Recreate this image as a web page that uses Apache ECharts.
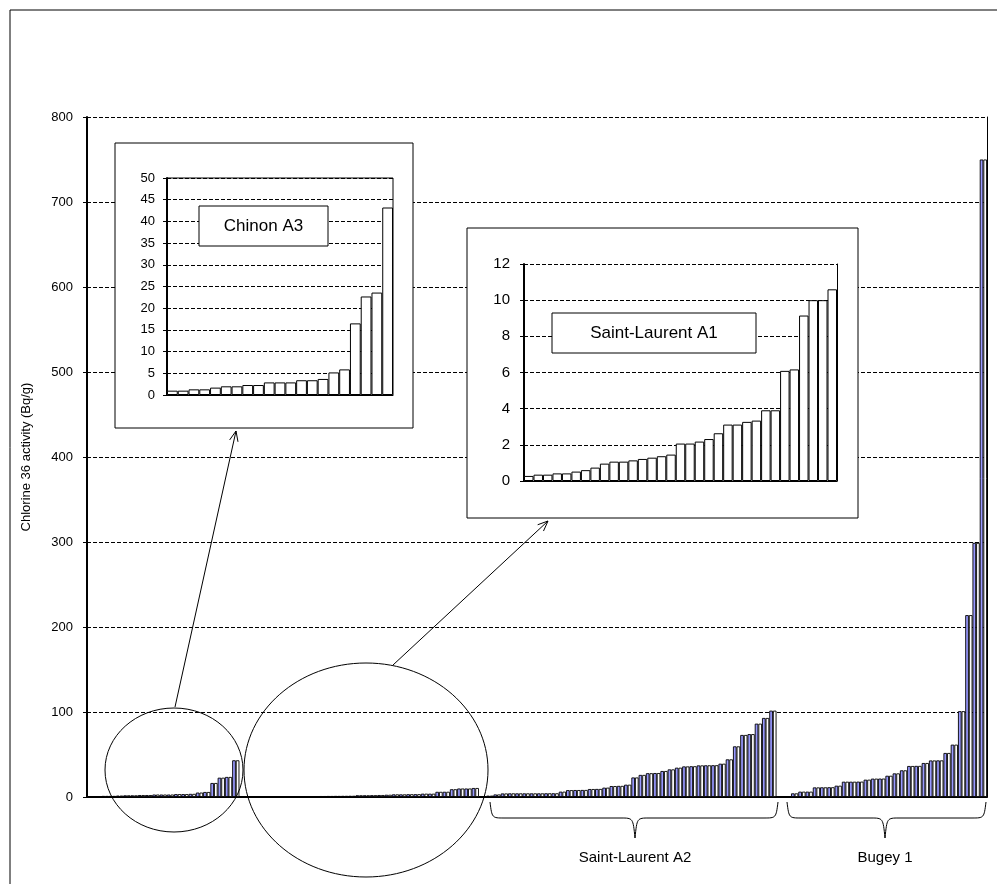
<!DOCTYPE html>
<html>
<head>
<meta charset="utf-8">
<title>Chlorine 36 activity</title>
<script src="https://cdn.jsdelivr.net/npm/echarts@6.0.0/dist/echarts.min.js"></script>
<style>
  html, body { margin: 0; padding: 0; background: #fff; }
  #chart { width: 997px; height: 884px; }
</style>
</head>
<body>
<div id="chart"></div>
<script>
// values (Bq/g), sorted per site as in the original
var chinonA3 = [1.0, 1.0, 1.3, 1.3, 1.7, 2.0, 2.0, 2.3, 2.3, 2.9, 2.9, 2.9, 3.4, 3.4, 3.7, 5.2, 5.9, 16.5, 22.7, 23.6, 43.2];
var stLaurentA1 = [0.28, 0.35, 0.35, 0.42, 0.42, 0.52, 0.6, 0.74, 0.96, 1.07, 1.07, 1.14, 1.22, 1.29, 1.37, 1.46,
                   2.07, 2.07, 2.18, 2.32, 2.64, 3.12, 3.12, 3.27, 3.34, 3.91, 3.91, 6.09, 6.17, 9.15, 10.0, 10.0, 10.6];
var stLaurentA2 = [1.6, 3.0, 4.2, 4.3, 4.3, 4.3, 4.3, 4.3, 4.4, 4.4, 6.3, 8.1, 8.2, 8.3, 9.4, 9.5, 11.0, 12.9, 13.1, 14.5,
                   23.0, 26.0, 28.0, 28.2, 30.6, 32.5, 34.5, 36.0, 36.2, 37.2, 37.3, 37.4, 39.2, 44.3, 59.6, 73.0, 74.0, 86.3, 93.0, 101.6];
var bugey1 = [0.5, 4.3, 6.3, 6.3, 11.3, 11.4, 11.5, 13.3, 18.0, 18.0, 18.1, 20.4, 21.6, 21.7, 25.0, 27.8, 31.4, 36.5, 36.6,
              40.0, 43.0, 43.1, 51.8, 61.6, 101.0, 214.0, 299.0, 750.0];

var mainTicks = [0, 100, 200, 300, 400, 500, 600, 700, 800];
var chinonTicks = [0, 5, 10, 15, 20, 25, 30, 35, 40, 45, 50];
var stLaurentTicks = [0, 2, 4, 6, 8, 10, 12];

var yTitle = 'Chlorine 36 activity (Bq/g)';
var groupNames = ['Chinon A3', 'Saint-Laurent A1', 'Saint-Laurent A2', 'Bugey 1'];

// one blank category between the groups, as in the original sheet
var mainValues = chinonA3.concat(stLaurentA1, [null], stLaurentA2, [null], bugey1);

function cats(arr) {
    var out = [];
    for (var i = 0; i < arr.length; i++) out.push(String(i + 1));
    return out;
}

var FONT = '"Liberation Sans", Arial, sans-serif';
var dash = [4, 2];

function valueAxis(gridIndex, ticks, fontSize, margin, z) {
    return {
        type: 'value', gridIndex: gridIndex, z: z,
        min: ticks[0], max: ticks[ticks.length - 1], interval: ticks[1] - ticks[0],
        axisLine: { show: true, lineStyle: { color: '#000', width: 2 } },
        axisTick: { show: true, inside: false, length: 4, lineStyle: { color: '#000' } },
        axisLabel: { color: '#000', fontSize: fontSize, fontFamily: FONT, margin: margin },
        splitLine: { show: true, lineStyle: { color: '#000', width: 1, type: dash } }
    };
}

// plain vertical line on the right side of a plot
function rightEdge(gridIndex, ticks, z) {
    return {
        type: 'value', gridIndex: gridIndex, position: 'right', z: z,
        min: ticks[0], max: ticks[ticks.length - 1],
        axisLine: { show: true, lineStyle: { color: '#000', width: 1 } },
        axisTick: { show: false }, axisLabel: { show: false }, splitLine: { show: false }
    };
}

function catAxis(gridIndex, data, z, w) {
    return {
        type: 'category', gridIndex: gridIndex, z: z, data: data,
        axisLine: { show: true, lineStyle: { color: '#000', width: w } },
        axisTick: { show: false }, axisLabel: { show: false }, splitLine: { show: false }
    };
}

function arrow(x1, y1, x2, y2) {
    var a = Math.atan2(y2 - y1, x2 - x1), L = 11, s = 0.4;
    return [
        { type: 'line', z: 10, shape: { x1: x1, y1: y1, x2: x2, y2: y2 }, style: { stroke: '#000', lineWidth: 1 } },
        { type: 'polyline', z: 10, shape: { points: [
            [x2 - L * Math.cos(a - s), y2 - L * Math.sin(a - s)], [x2, y2],
            [x2 - L * Math.cos(a + s), y2 - L * Math.sin(a + s)] ] },
          style: { stroke: '#000', lineWidth: 1, fill: null } }
    ];
}

function brace(xa, xb, xm, yTop, yBody, yTip) {
    var st = { stroke: '#000', lineWidth: 1, fill: null }, r = 14;
    return [
        { type: 'bezierCurve', z: 10, shape: { x1: xa, y1: yTop, cpx1: xa + 2, cpy1: yBody, cpx2: xa + 2, cpy2: yBody, x2: xa + r, y2: yBody }, style: st },
        { type: 'line', z: 10, shape: { x1: xa + r, y1: yBody, x2: xm - r, y2: yBody }, style: st },
        { type: 'bezierCurve', z: 10, shape: { x1: xm - r, y1: yBody, cpx1: xm - 2, cpy1: yBody, cpx2: xm - 2, cpy2: yBody, x2: xm, y2: yTip }, style: st },
        { type: 'bezierCurve', z: 10, shape: { x1: xm, y1: yTip, cpx1: xm + 2, cpy1: yBody, cpx2: xm + 2, cpy2: yBody, x2: xm + r, y2: yBody }, style: st },
        { type: 'line', z: 10, shape: { x1: xm + r, y1: yBody, x2: xb - r, y2: yBody }, style: st },
        { type: 'bezierCurve', z: 10, shape: { x1: xb - r, y1: yBody, cpx1: xb - 2, cpy1: yBody, cpx2: xb - 2, cpy2: yBody, x2: xb, y2: yTop }, style: st }
    ];
}

function labelBox(x, y, w, h, text, size) {
    return [
        { type: 'rect', z: 12, shape: { x: x, y: y, width: w, height: h }, style: { fill: '#fff', stroke: '#000', lineWidth: 1 } },
        { type: 'text', z: 13, style: { text: text, x: x + w / 2, y: y + h / 2, textAlign: 'center', textVerticalAlign: 'middle',
          font: size + 'px ' + FONT, fill: '#000' } }
    ];
}

var graphics = [
    { type: 'rect', z: 0, shape: { x: 10, y: 10, width: 1000, height: 900 }, style: { fill: null, stroke: '#000', lineWidth: 1 } },
    // inset frames
    { type: 'rect', z: 3, shape: { x: 115, y: 143, width: 298, height: 285 }, style: { fill: '#fff', stroke: '#000', lineWidth: 1 } },
    { type: 'rect', z: 3, shape: { x: 467, y: 228, width: 391, height: 290 }, style: { fill: '#fff', stroke: '#000', lineWidth: 1 } },
    // ellipses around the small values
    { type: 'ellipse', z: 10, shape: { cx: 174, cy: 770, rx: 69, ry: 62 }, style: { fill: null, stroke: '#000', lineWidth: 1 } },
    { type: 'ellipse', z: 10, shape: { cx: 366, cy: 770, rx: 122, ry: 107 }, style: { fill: null, stroke: '#000', lineWidth: 1 } },
    { type: 'text', z: 10, style: { text: groupNames[2], x: 635, y: 858, textAlign: 'center', textVerticalAlign: 'middle', font: '15px ' + FONT, fill: '#000' } },
    { type: 'text', z: 10, style: { text: groupNames[3], x: 885, y: 858, textAlign: 'center', textVerticalAlign: 'middle', font: '15px ' + FONT, fill: '#000' } }
].concat(
    arrow(175, 707, 236, 431),
    arrow(393, 665, 548, 521),
    brace(490, 778, 635, 802, 818, 838),
    brace(787, 986, 885, 802, 818, 838),
    labelBox(199, 206, 129, 40, groupNames[0], 17),
    labelBox(552, 313, 204, 40, groupNames[1], 17)
);

var myChart = echarts.init(document.getElementById('chart'), null, { renderer: 'canvas' });

var option = {
    animation: false,
    backgroundColor: '#fff',
    textStyle: { fontFamily: FONT },
    grid: [
        { left: 87, top: 117, width: 900, height: 680, outerBoundsMode: 'none' },
        { left: 167, top: 178, width: 226, height: 217, outerBoundsMode: 'none', show: true, z: 6,
          borderColor: '#000', borderWidth: 1, backgroundColor: 'transparent' },
        { left: 524, top: 264, width: 313, height: 217, outerBoundsMode: 'none' }
    ],
    xAxis: [
        catAxis(0, cats(mainValues), 1, 2),
        catAxis(1, cats(chinonA3), 6, 1),
        catAxis(2, cats(stLaurentA1), 6, 1)
    ],
    yAxis: [
        Object.assign(valueAxis(0, mainTicks, 13, 14, 1), {
            name: yTitle, nameLocation: 'middle', nameGap: 54,
            nameTextStyle: { color: '#000', fontSize: 13, fontFamily: FONT }
        }),
        rightEdge(0, mainTicks, 1),
        valueAxis(1, chinonTicks, 13, 12, 6),
        valueAxis(2, stLaurentTicks, 15, 14, 6),
        rightEdge(2, stLaurentTicks, 6)
    ],
    series: [
        { type: 'bar', xAxisIndex: 0, yAxisIndex: 0, data: mainValues, barGap: '0%', barCategoryGap: '0%',
          itemStyle: { color: '#9999ff', borderColor: '#000', borderWidth: 0.9 } },
        { type: 'bar', xAxisIndex: 0, yAxisIndex: 0, data: mainValues, barGap: '0%', barCategoryGap: '0%',
          itemStyle: { color: '#ffffff', borderColor: '#000', borderWidth: 0.9 } },
        { type: 'bar', xAxisIndex: 1, yAxisIndex: 2, data: chinonA3, barCategoryGap: '0%', z: 7,
          itemStyle: { color: '#ffffff', borderColor: '#000', borderWidth: 1 } },
        { type: 'bar', xAxisIndex: 2, yAxisIndex: 3, data: stLaurentA1, barCategoryGap: '0%', z: 7,
          itemStyle: { color: '#ffffff', borderColor: '#000', borderWidth: 1 } }
    ],
    graphic: { elements: graphics }
};

myChart.setOption(option);
</script>
</body>
</html>
